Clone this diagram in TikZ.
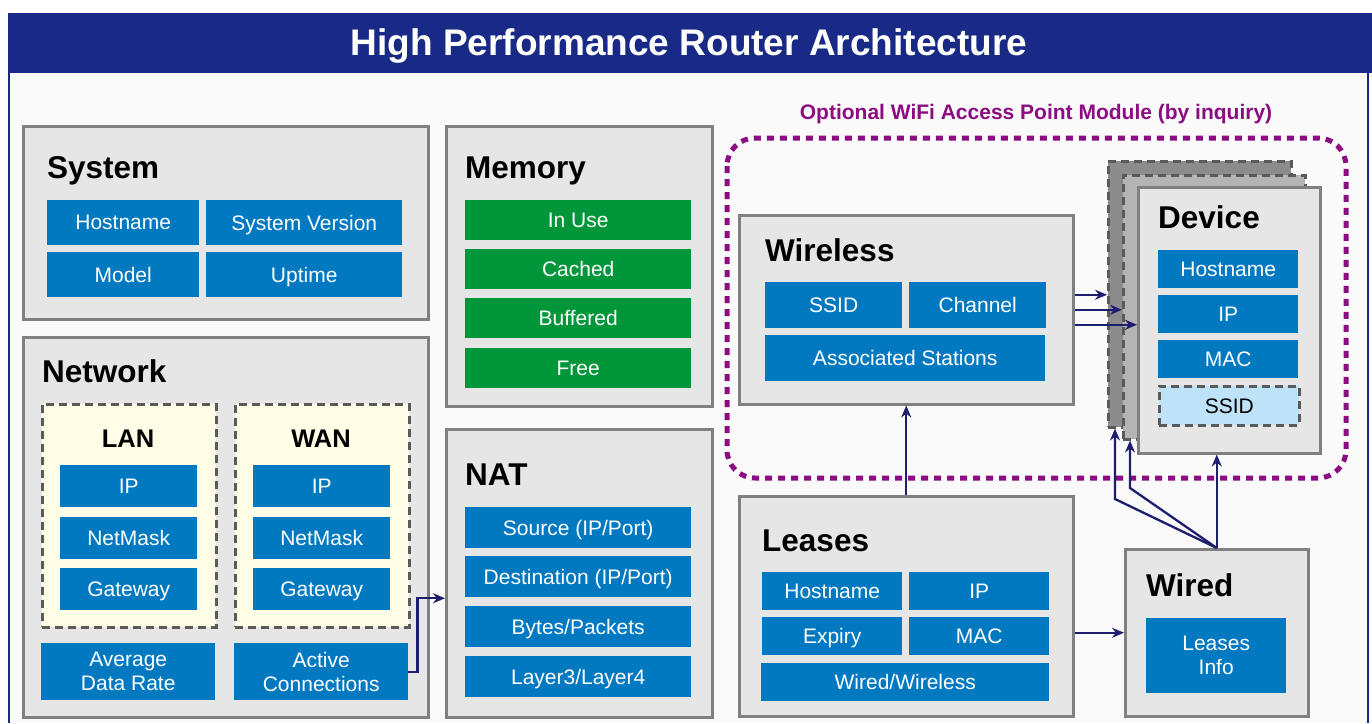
\documentclass[tikz,border=0pt]{standalone}
\usepackage{fontspec}
\setmainfont{Liberation Sans}
\usetikzlibrary{arrows.meta}

\definecolor{barblue}{RGB}{24,42,134}
\definecolor{pagegray}{RGB}{250,250,250}
\definecolor{panelgray}{RGB}{230,230,230}
\definecolor{edgegray}{RGB}{128,128,128}
\definecolor{dashgray}{RGB}{90,90,90}
\definecolor{fieldblue}{RGB}{0,121,193}
\definecolor{memgreen}{RGB}{0,150,57}
\definecolor{groupyellow}{RGB}{255,253,230}
\definecolor{wifipurple}{RGB}{140,12,130}
\definecolor{flownavy}{RGB}{30,30,110}
\definecolor{backgray}{RGB}{140,140,140}
\definecolor{midgray}{RGB}{180,180,180}
\definecolor{ssidblue}{RGB}{190,227,248}

\tikzset{
    panel/.style = {draw=edgegray, fill=panelgray, line width=2.5pt, anchor=north west, inner sep=0pt},
    heading/.style = {font=\fontsize{31.5}{34}\selectfont\bfseries, anchor=base west, inner sep=0pt},
    subheading/.style = {font=\fontsize{25.5}{28}\selectfont\bfseries, anchor=base, inner sep=0pt},
    field/.style = {fill=fieldblue, text=white, font=\fontsize{21}{24}\selectfont, anchor=north west, inner sep=0pt, align=center, text depth=0pt},
    memfield/.style = {field, fill=memgreen},
    group/.style = {draw=dashgray, fill=groupyellow, line width=2.5pt, dash pattern=on 8pt off 5pt, anchor=north west, inner sep=0pt},
    layer/.style = {draw=dashgray, line width=2.5pt, dash pattern=on 8pt off 5pt, anchor=north west, inner sep=0pt},
    flow/.style = {draw=flownavy, line width=2.3pt, -{Stealth[length=12pt,width=10pt]}}
}

\begin{document}
\begin{tikzpicture}[x=1pt,y=-1pt]
    \useasboundingbox (0,0) rectangle (1372,723);

    % frame and banner
    \fill[pagegray] (9,73) rectangle (1368,723);
    \draw[barblue, line width=2pt] (9,73) -- (9,723) (1368,73) -- (1368,723);
    \fill[barblue] (8,13) rectangle (1372,73);
    \node[text=white, font=\fontsize{37}{40}\selectfont\bfseries, anchor=base, inner sep=0pt] (banner) at (689,55) {High Performance Router Architecture};

    % optional wifi module
    \draw[wifipurple, line width=5pt, dash pattern=on 7pt off 6pt, rounded corners=28pt] (727,138) rectangle (1346,478);
    \node[text=wifipurple, font=\fontsize{21}{24}\selectfont\bfseries, anchor=base, inner sep=0pt] (wifilabel) at (1036,119) {Optional WiFi Access Point Module (by inquiry)};

    % system
    \node[panel, minimum width=405, minimum height=193] (system) at (22,125) {};
    \node[heading] (systitle) at (47,178) {System};
    \node[field, minimum width=152, minimum height=45] (syshost) at (47,200) {Hostname};
    \node[field, minimum width=196, minimum height=45] (sysver) at (206,200) {System Version};
    \node[field, minimum width=152, minimum height=45] (sysmodel) at (47,252) {Model};
    \node[field, minimum width=196, minimum height=45] (sysup) at (206,252) {Uptime};

    % network
    \node[panel, minimum width=405, minimum height=380] (network) at (22,336) {};
    \node[heading] (nettitle) at (42,382) {Network};
    \node[group, minimum width=174, minimum height=223] (lan) at (41,403) {};
    \node[subheading] (lantitle) at (128,447) {LAN};
    \node[field, minimum width=137, minimum height=42] (lanip) at (60,465) {IP};
    \node[field, minimum width=137, minimum height=42] (lanmask) at (60,517) {NetMask};
    \node[field, minimum width=137, minimum height=42] (langw) at (60,568) {Gateway};
    \node[group, minimum width=174, minimum height=223] (wan) at (234,403) {};
    \node[subheading] (wantitle) at (321,447) {WAN};
    \node[field, minimum width=137, minimum height=42] (wanip) at (253,465) {IP};
    \node[field, minimum width=137, minimum height=42] (wanmask) at (253,517) {NetMask};
    \node[field, minimum width=137, minimum height=42] (wangw) at (253,568) {Gateway};
    \node[field, minimum width=174, minimum height=57] (avgrate) at (41,643) {Average\\Data Rate};
    \node[field, minimum width=174, minimum height=57] (active) at (234,643) {Active\\Connections};

    % memory
    \node[panel, minimum width=266, minimum height=280] (memory) at (445,125) {};
    \node[heading] (memtitle) at (465,178) {Memory};
    \node[memfield, minimum width=226, minimum height=40] (inuse) at (465,200) {In Use};
    \node[memfield, minimum width=226, minimum height=40] (cached) at (465,249) {Cached};
    \node[memfield, minimum width=226, minimum height=40] (buffered) at (465,298) {Buffered};
    \node[memfield, minimum width=226, minimum height=40] (free) at (465,348) {Free};

    % nat
    \node[panel, minimum width=266, minimum height=288] (nat) at (445,428) {};
    \node[heading] (nattitle) at (465,485) {NAT};
    \node[field, minimum width=226, minimum height=41] (natsrc) at (465,507) {Source (IP/Port)};
    \node[field, minimum width=226, minimum height=41] (natdst) at (465,556) {Destination (IP/Port)};
    \node[field, minimum width=226, minimum height=41] (natbytes) at (465,606) {Bytes/Packets};
    \node[field, minimum width=226, minimum height=41] (natlayer) at (465,656) {Layer3/Layer4};

    % wireless
    \node[panel, minimum width=334, minimum height=189] (wireless) at (738,214) {};
    \node[heading] (wltitle) at (765,261) {Wireless};
    \node[field, minimum width=137, minimum height=46] (wlssid) at (765,282) {SSID};
    \node[field, minimum width=137, minimum height=46] (wlchan) at (909,282) {Channel};
    \node[field, minimum width=280, minimum height=46] (wlassoc) at (765,335) {Associated Stations};

    % device stack
    \node[layer, fill=backgray, minimum width=183, minimum height=266] (stackback) at (1107,160) {};
    \node[layer, fill=midgray, minimum width=182, minimum height=264] (stackmid) at (1122,174) {};
    \node[panel, minimum width=182, minimum height=266] (device) at (1137,186) {};
    \node[heading] (devtitle) at (1158,228) {Device};
    \node[field, minimum width=140, minimum height=38] (devhost) at (1158,250) {Hostname};
    \node[field, minimum width=140, minimum height=38] (devip) at (1158,295) {IP};
    \node[field, minimum width=140, minimum height=38] (devmac) at (1158,340) {MAC};
    \node[field, layer, fill=ssidblue, text=black, minimum width=140, minimum height=39] (devssid) at (1158,385) {SSID};

    % leases
    \node[panel, minimum width=334, minimum height=220] (leases) at (738,495) {};
    \node[heading] (lstitle) at (762,551) {Leases};
    \node[field, minimum width=140, minimum height=38] (lshost) at (762,572) {Hostname};
    \node[field, minimum width=140, minimum height=38] (lsip) at (909,572) {IP};
    \node[field, minimum width=140, minimum height=38] (lsexp) at (762,617) {Expiry};
    \node[field, minimum width=140, minimum height=38] (lsmac) at (909,617) {MAC};
    \node[field, minimum width=288, minimum height=38] (lskind) at (761,663) {Wired/Wireless};

    % wired
    \node[panel, minimum width=183, minimum height=167] (wired) at (1124,548) {};
    \node[heading] (wdtitle) at (1146,596) {Wired};
    \node[field, minimum width=140, minimum height=75] (wdinfo) at (1146,618) {Leases\\Info};

    % connectors
    \draw[flow] (active.east) -- ++(9,0) |- ([yshift=-25pt]nat.west);
    \draw[flow] (leases.north) -- (wireless.south);
    \draw[flow] (leases.east |- wired.west) -- (wired.west);
    \coordinate (wa) at ([yshift=15pt]wireless.east);
    \coordinate (wc) at ([yshift=-15pt]wireless.east);
    \draw[flow] (wa) -- (wa -| stackback.west);
    \draw[flow] (wireless.east) -- (wireless.east -| stackmid.west);
    \draw[flow] (wc) -- (wc -| device.west);
    \coordinate (ka) at (1115,499);
    \coordinate (kb) at (1130,488);
    \draw[flow] (wired.north) -- (wired.north |- device.south);
    \draw[flow] (wired.north) -- (kb) -- (kb |- stackmid.south);
    \draw[flow] (wired.north) -- (ka) -- (ka |- stackback.south);
\end{tikzpicture}
\end{document}
